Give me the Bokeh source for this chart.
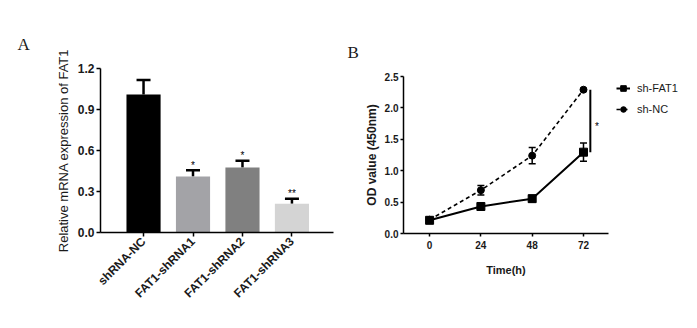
from math import pi
from bokeh.plotting import figure
from bokeh.models import (ColumnDataSource, Whisker, TeeHead, FixedTicker,
                          PrintfTickFormatter, Legend, LegendItem, Range1d, Title)
from bokeh.layouts import row, column
from bokeh.embed import file_html
from bokeh.resources import INLINE
from bokeh.core.properties import value

# ---------------- Panel A data ----------------
categories = ["shRNA-NC", "FAT1-shRNA1", "FAT1-shRNA2", "FAT1-shRNA3"]
expression = [1.01, 0.41, 0.475, 0.21]
expression_err = [0.105, 0.045, 0.05, 0.037]
significance_a = ["", "*", "*", "**"]
bar_colors = ["#000000", "#a3a3a7", "#808080", "#d4d4d4"]
y_ticks_a = [0.0, 0.3, 0.6, 0.9, 1.2]

# ---------------- Panel B data ----------------
time_h = [0, 24, 48, 72]
od_fat1 = [0.21, 0.43, 0.555, 1.295]
od_fat1_err = [0.02, 0.04, 0.05, 0.145]
od_nc = [0.22, 0.69, 1.24, 2.29]
od_nc_err = [0.02, 0.075, 0.13, 0.02]
y_ticks_b = [0.0, 0.5, 1.0, 1.5, 2.0, 2.5]
series_labels = ["sh-FAT1", "sh-NC"]

FONT = "Liberation Sans"
TXT = "#1a1a1a"


def style_axes(p, tick_size, label_size, label_style, tick_out):
    for ax in (p.xaxis, p.yaxis):
        ax.axis_line_color = "black"
        ax.axis_line_width = 1.5
        ax.major_tick_line_color = "black"
        ax.major_tick_line_width = 1.5
        ax.major_tick_in = 0
        ax.major_tick_out = tick_out
        ax.minor_tick_line_color = None
        ax.major_label_text_font = FONT
        ax.major_label_text_font_size = tick_size
        ax.major_label_text_font_style = "bold"
        ax.major_label_text_color = TXT
        ax.axis_label_text_font = FONT
        ax.axis_label_text_font_size = label_size
        ax.axis_label_text_font_style = label_style
        ax.axis_label_text_color = TXT
    p.xgrid.visible = False
    p.ygrid.visible = False
    p.outline_line_color = None
    p.background_fill_color = "white"
    p.border_fill_color = "white"


def panel_title(text, offset, standoff):
    return Title(text=text, align="left", offset=offset, standoff=standoff,
                 text_font="Liberation Serif", text_font_size="17px",
                 text_font_style="normal", text_color=TXT)


# ================= Panel A =================
xs = [i + 1 for i in range(len(categories))]
upper_a = [v + e for v, e in zip(expression, expression_err)]
srcA = ColumnDataSource(dict(
    x=xs, top=expression, upper=upper_a, color=bar_colors,
    star=significance_a, star_y=[u + 0.035 for u in upper_a]))

pA = figure(width=338, height=312, x_range=Range1d(0.13, 4.84),
            y_range=Range1d(0, 1.2), output_backend="svg",
            toolbar_location=None, min_border_left=100, min_border_right=5,
            min_border_top=68, min_border_bottom=80,
            title=panel_title("A", -83, 30))
pA.vbar(x="x", top="top", bottom=0, width=0.69, fill_color="color",
        line_color=None, source=srcA)
pA.add_layout(Whisker(base="x", lower="top", upper="upper", source=srcA,
                      line_width=2.5, line_color="black",
                      upper_head=TeeHead(size=14, line_width=2.5, line_color="black"),
                      lower_head=None))
pA.text(x="x", y="star_y", text="star", source=srcA, text_align="center",
        text_baseline="alphabetic", text_font=value(FONT),
        text_font_size="10px", text_color="black")

style_axes(pA, "12px", "13px", "normal", 4)
pA.xaxis.ticker = FixedTicker(ticks=xs)
pA.xaxis.major_label_overrides = {x: c for x, c in zip(xs, categories)}
pA.xaxis.major_label_orientation = pi / 4
pA.xaxis.major_label_standoff = 3
pA.yaxis.ticker = FixedTicker(ticks=y_ticks_a)
pA.yaxis.formatter = PrintfTickFormatter(format="%.1f")
pA.yaxis.major_label_standoff = 2
pA.yaxis.axis_label = "Relative mRNA expression of FAT1"
pA.yaxis.axis_label_standoff = 4

# ================= Panel B =================
srcF = ColumnDataSource(dict(
    x=time_h, y=od_fat1,
    lo=[v - e for v, e in zip(od_fat1, od_fat1_err)],
    hi=[v + e for v, e in zip(od_fat1, od_fat1_err)]))
srcN = ColumnDataSource(dict(
    x=time_h, y=od_nc,
    lo=[v - e for v, e in zip(od_nc, od_nc_err)],
    hi=[v + e for v, e in zip(od_nc, od_nc_err)]))

pB = figure(width=275, height=312, x_range=Range1d(-12.2, 83.7),
            y_range=Range1d(0, 2.5), output_backend="svg",
            toolbar_location=None, min_border_left=65, min_border_right=5,
            min_border_top=76, min_border_bottom=79,
            title=panel_title("B", -56, 30))

pB.line("x", "y", source=srcN, line_dash="4 3", line_width=1.6, line_color="black")
pB.add_layout(Whisker(base="x", lower="lo", upper="hi", source=srcN,
                      line_width=1.5, line_color="black",
                      upper_head=TeeHead(size=7, line_width=1.5, line_color="black"),
                      lower_head=TeeHead(size=7, line_width=1.5, line_color="black")))
pB.scatter("x", "y", source=srcN, marker="circle", size=7, color="black")

pB.line("x", "y", source=srcF, line_width=2, line_color="black")
pB.add_layout(Whisker(base="x", lower="lo", upper="hi", source=srcF,
                      line_width=1.5, line_color="black",
                      upper_head=TeeHead(size=7, line_width=1.5, line_color="black"),
                      lower_head=TeeHead(size=7, line_width=1.5, line_color="black")))
pB.scatter("x", "y", source=srcF, marker="square", size=8, color="black")

last_t = time_h[-1]
pB.segment(x0=[last_t + 3.2], y0=[od_nc[-1]], x1=[last_t + 3.2], y1=[od_fat1[-1]],
           line_width=2, line_color="black")
pB.text(x=[last_t + 6.3], y=[(od_nc[-1] + od_fat1[-1]) / 2 - 0.09], text=["*"],
        text_align="center", text_baseline="alphabetic", text_font=value(FONT),
        text_font_size="10px", text_color="black")

style_axes(pB, "10px", "12px", "bold", 3)
pB.xaxis.ticker = FixedTicker(ticks=time_h)
pB.xaxis.major_label_standoff = 4
pB.xaxis.axis_label = "Time(h)"
pB.xaxis.axis_label_standoff = 12
pB.xaxis.axis_label_text_font_size = "11px"
pB.yaxis.ticker = FixedTicker(ticks=y_ticks_b)
pB.yaxis.formatter = PrintfTickFormatter(format="%.1f")
pB.yaxis.major_label_standoff = 2
pB.yaxis.axis_label = "OD value (450nm)"
pB.yaxis.axis_label_standoff = 3

# ================= Legend strip (to the right of panel B) =================
pL = figure(width=68, height=312, x_range=Range1d(1000, 1001),
            y_range=Range1d(1000, 1001), output_backend="svg",
            toolbar_location=None, x_axis_type=None, y_axis_type=None,
            min_border=0)
pL.xgrid.visible = False
pL.ygrid.visible = False
pL.outline_line_color = None
# proxies drawn from the same data (outside the strip's ranges, so unseen)
lF = pL.line("x", "y", source=srcF, line_width=2, line_color="black")
sF = pL.scatter("x", "y", source=srcF, marker="square", size=8, color="black")
lN = pL.line("x", "y", source=srcN, line_dash="4 3", line_width=1.6, line_color="black")
sN = pL.scatter("x", "y", source=srcN, marker="circle", size=7, color="black")

legend = Legend(items=[LegendItem(label=series_labels[0], renderers=[lF, sF]),
                       LegendItem(label=series_labels[1], renderers=[lN, sN])],
                location=(3, 193), glyph_width=14, glyph_height=20,
                label_height=20, label_standoff=7, spacing=1, padding=0, margin=0,
                border_line_color=None, background_fill_alpha=0,
                label_text_font=FONT, label_text_font_size="11px",
                label_text_color=TXT)
pL.add_layout(legend, "center")

layout = row(column(pA), column(pB), column(pL))
open("out.html", "w").write(file_html(layout, INLINE))
